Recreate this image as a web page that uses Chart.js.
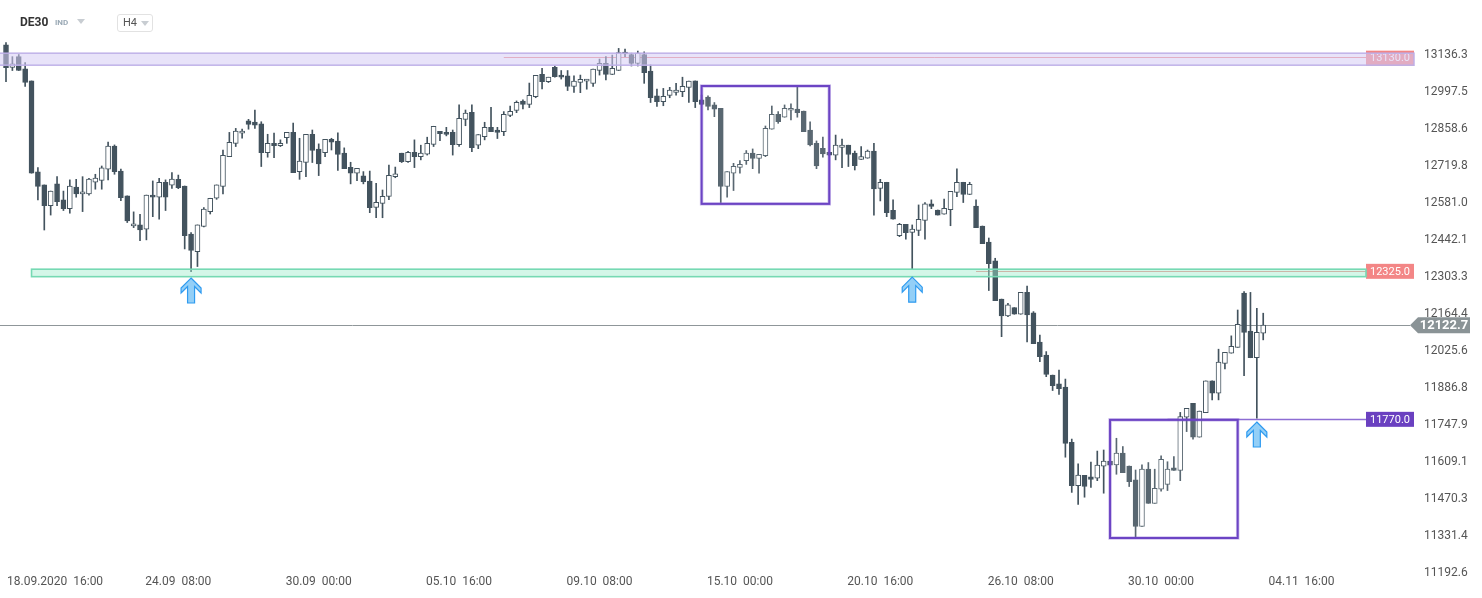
<!DOCTYPE html>
<html>
<head>
<meta charset="utf-8">
<script src="https://cdn.jsdelivr.net/npm/chart.js@4.4.1/dist/chart.umd.min.js"></script>
<style>
  body { margin: 0; background: #fff; font-family: Roboto, "Open Sans", sans-serif; }
  #wrap { position: relative; width: 1482px; height: 598px; overflow: hidden; }
  canvas { position: absolute; left: 0; top: 0; }
  .sym { position: absolute; left: 20px; top: 15px; font-size: 12px; font-weight: 700; color: #333; line-height: 14px; }
  .ind { position: absolute; left: 55px; top: 18px; font-size: 8px; font-weight: 700; color: #9aa9b5; line-height: 10px; }
  .tri { position: absolute; width: 0; height: 0; border-left: 4px solid transparent; border-right: 4px solid transparent; border-top: 5px solid #c8cdd2; }
  .tf { position: absolute; left: 117px; top: 14px; width: 34px; height: 16px; border: 1px solid #e2e2e2; border-radius: 3px; }
  .tf span { position: absolute; left: 5px; top: 1px; font-size: 11px; color: #555; line-height: 14px; }
</style>
</head>
<body>
<div id="wrap">
  <canvas id="chart" width="1482" height="598"></canvas>
  <div class="sym">DE30</div>
  <div class="ind">IND</div>
  <div class="tri" style="left:77px;top:19px"></div>
  <div class="tf"><span>H4</span><div class="tri" style="left:23px;top:6px"></div></div>
</div>
<script>
// H4 candles, 17.09.2020 20:00 .. 03.11.2020
const open = [13174,13090,13130,13084,13039,12698,12649,12571,12653,12593,12560,12641,12615,12615,12659,12666,12708,12795,12701,12608,
  12495,12499,12483,12611,12603,12659,12648,12670,12645,12465,12399,12493,12549,12599,12643,12755,12805,12843,12889,12885,
  12878,12770,12805,12796,12826,12846,12699,12733,12839,12783,12770,12820,12813,12768,12715,12693,12683,12663,12565,12580,
  12606,12680,12768,12736,12771,12755,12764,12801,12850,12846,12846,12800,12895,12921,12798,12830,12865,12855,12849,12910,
  12928,12963,12951,12980,13064,13036,13090,13061,13058,13018,13033,13038,13030,13078,13105,13063,13078,13145,13138,13105,
  13138,13076,12983,12961,12985,12996,12999,13015,13039,12968,12978,12949,12936,12643,12693,12715,12740,12768,12748,12759,
  12858,12914,12903,12929,12933,12926,12855,12805,12786,12771,12761,12790,12798,12768,12745,12749,12776,12636,12659,12554,
  12459,12501,12471,12478,12516,12578,12555,12539,12556,12621,12659,12613,12570,12495,12435,12364,12221,12158,12189,12164,
  12246,12169,12060,12011,11936,11903,11891,11684,11521,11560,11554,11549,11594,11613,11599,11643,11595,11543,11368,11583,
  11455,11508,11526,11588,11578,11778,11830,11703,11795,11914,11868,11980,12018,12040,12243,12101,12001,12093];
const high = [13183,13130,13138,13108,13039,12714,12649,12626,12680,12626,12668,12670,12680,12674,12689,12720,12810,12799,12708,12608,
  12548,12539,12611,12664,12674,12668,12695,12686,12645,12470,12499,12564,12599,12649,12780,12846,12861,12858,12895,12930,
  12886,12839,12843,12818,12846,12881,12824,12839,12855,12803,12820,12824,12844,12788,12734,12711,12699,12701,12655,12630,
  12723,12716,12768,12775,12818,12798,12828,12869,12850,12865,12855,12949,12930,12949,12838,12884,12940,12865,12924,12945,
  12964,12968,13031,13060,13086,13053,13095,13078,13078,13058,13061,13045,13083,13121,13130,13136,13161,13158,13143,13151,
  13148,13099,13008,13011,13015,13030,13053,13038,13039,12986,12983,12958,12936,12699,12730,12740,12778,12784,12764,12870,
  12945,12924,12949,12953,13018,12926,12886,12814,12828,12773,12836,12821,12798,12776,12793,12780,12805,12670,12659,12593,
  12505,12501,12499,12574,12583,12593,12555,12596,12625,12709,12659,12659,12593,12495,12450,12374,12221,12205,12189,12246,
  12270,12174,12086,12024,11936,11955,11921,11696,11603,11560,11610,11651,11655,11613,11699,11668,11595,11580,11599,11608,
  11583,11633,11611,11630,11796,11811,11830,11801,11914,11914,12033,12021,12083,12180,12249,12246,12186,12168];
const low = [13036,13078,13078,13018,12693,12593,12480,12536,12571,12553,12543,12603,12549,12611,12633,12633,12668,12689,12590,12508,
  12489,12440,12443,12530,12521,12553,12636,12635,12409,12324,12343,12492,12540,12595,12615,12755,12793,12824,12858,12861,
  12718,12753,12751,12793,12805,12695,12670,12680,12733,12684,12755,12780,12703,12710,12653,12665,12653,12545,12526,12526,
  12594,12676,12733,12733,12714,12743,12761,12793,12815,12833,12761,12793,12871,12774,12785,12818,12849,12823,12834,12905,
  12920,12934,12939,12976,13009,13033,13053,13046,13003,12996,12995,13008,13018,13061,13043,13063,13078,13130,13095,13095,
  13030,12958,12943,12946,12976,12986,12980,12958,12939,12949,12930,12905,12583,12603,12628,12693,12726,12710,12693,12755,
  12858,12880,12903,12893,12903,12849,12795,12710,12753,12759,12743,12714,12718,12705,12745,12749,12536,12589,12530,12521,
  12455,12446,12333,12459,12446,12560,12536,12539,12496,12605,12583,12613,12489,12429,12253,12215,12080,12155,12164,12164,
  12060,12054,11986,11930,11878,11863,11628,11496,11451,11478,11515,11540,11493,11598,11564,11570,11518,11326,11368,11455,
  11455,11501,11503,11578,11540,11724,11696,11703,11795,11843,11843,11959,12018,12040,11934,12001,11774,12068];
const close = [13089,13103,13078,13033,12693,12643,12571,12626,12586,12560,12645,12615,12623,12671,12675,12713,12795,12699,12601,12514,
  12503,12480,12611,12603,12659,12603,12671,12639,12459,12403,12499,12558,12599,12649,12760,12809,12851,12851,12876,12873,
  12770,12805,12796,12805,12846,12695,12738,12839,12778,12728,12820,12809,12763,12710,12693,12711,12661,12564,12584,12606,
  12685,12691,12736,12771,12755,12768,12805,12869,12841,12838,12800,12899,12918,12789,12838,12865,12849,12846,12914,12925,
  12959,12951,12985,13060,13036,13053,13055,13053,13018,13038,13045,13045,13083,13105,13063,13086,13145,13140,13105,13143,
  13070,12976,12961,12981,13005,13005,13019,13038,12961,12951,12943,12933,12643,12699,12719,12726,12768,12748,12764,12861,
  12914,12886,12936,12936,12920,12849,12799,12720,12765,12761,12798,12798,12763,12721,12755,12776,12634,12659,12545,12521,
  12501,12470,12483,12520,12578,12568,12536,12561,12625,12659,12613,12651,12489,12429,12354,12215,12158,12199,12164,12246,
  12162,12054,12005,11938,11896,11885,11680,11521,11561,11518,11545,11598,11613,11598,11643,11570,11536,11368,11583,11455,
  11511,11620,11583,11578,11780,11811,11703,11801,11914,11868,11985,12021,12044,12126,12096,12001,12096,12123];

const priceTicks = [13136.3, 12997.5, 12858.6, 12719.8, 12581.0, 12442.1, 12303.3, 12164.4,
  12025.6, 11886.8, 11747.9, 11609.1, 11470.3, 11331.4, 11192.6];
const dateTickIdx = [5, 27, 49, 71, 93, 115, 137, 159, 181, 203];
const dateTickLabels = ['18.09.2020  16:00', '24.09  08:00', '30.09  00:00', '05.10  16:00', '09.10  08:00',
  '15.10  00:00', '20.10  16:00', '26.10  08:00', '30.10  00:00', '04.11  16:00'];

const lastPrice = 12122.7;
// horizontal levels: price, first candle index
const levelPrice = [13130.0, 12325.0, 11770.0];
const levelStart = [78, 152, 182];
// zones: [bottom, top], first candle index
const zoneLow = [13098, 12305];
const zoneHigh = [13143, 12333];
const zoneStart = [0, 4];
// boxes: candle index range and price range
const boxFrom = [109, 173];
const boxTo = [129, 193];
const boxLow = [12578, 11325];
const boxHigh = [13020, 11768];
// arrows under candles
const arrowIdx = [29, 142, 196];
const arrowPrice = [12300, 12303, 11760];

const DARK = '#43535e';
const FONT = 'Roboto, "Open Sans", sans-serif';

const wickData = low.map((l, i) => ({ x: i, y: [l, high[i]] }));
const bodyData = open.map((o, i) => ({ x: i, y: [o, close[i]] }));
const bodyColor = open.map((o, i) => close[i] >= o ? '#ffffff' : DARK);

function drawArrow(ctx, px, py) {
  const pts = [[0,0],[10,10],[10,15],[3.5,8.5],[3.5,25],[-3.5,25],[-3.5,8.5],[-10,15],[-10,10]];
  ctx.beginPath();
  pts.forEach((p, k) => k ? ctx.lineTo(px + p[0], py + p[1]) : ctx.moveTo(px + p[0], py + p[1]));
  ctx.closePath();
  ctx.fillStyle = '#93cff7';
  ctx.fill();
  ctx.strokeStyle = '#2f9bf0';
  ctx.lineWidth = 1.2;
  ctx.stroke();
}

function tag(ctx, x, yc, w, h, fill, text) {
  ctx.fillStyle = fill;
  ctx.fillRect(x, yc - h / 2, w, h);
  ctx.fillStyle = '#ffffff';
  ctx.font = '11px ' + FONT;
  ctx.textAlign = 'center';
  ctx.textBaseline = 'middle';
  ctx.fillText(text, x + w / 2, yc + 0.5);
}

const overlay = {
  id: 'overlay',
  beforeDatasetsDraw(chart) {
    const { ctx, chartArea: a, scales: { x, y } } = chart;
    const tagL = a.right - 44;
    ctx.save();
    const yp = Math.round(y.getPixelForValue(lastPrice)) + 0.5;
    ctx.strokeStyle = '#8f9699';
    ctx.lineWidth = 1;
    ctx.beginPath(); ctx.moveTo(a.left, yp); ctx.lineTo(a.right, yp); ctx.stroke();
    levelPrice.forEach((p, k) => {
      const py = Math.round(y.getPixelForValue(p)) + 0.5;
      ctx.strokeStyle = k === 2 ? 'rgba(112,72,200,0.8)' : '#f08a8a';
      ctx.lineWidth = k === 2 ? 1.5 : 1;
      ctx.beginPath(); ctx.moveTo(x.getPixelForValue(levelStart[k]), py); ctx.lineTo(tagL, py); ctx.stroke();
    });
    ctx.restore();
  },
  afterDatasetsDraw(chart) {
    const { ctx, chartArea: a, scales: { x, y } } = chart;
    const tagL = a.right - 44;
    ctx.save();
    // level tags
    const tagFill = ['#f28585', '#f38686', '#6a40c0'];
    levelPrice.forEach((p, k) => {
      tag(ctx, tagL, y.getPixelForValue(p) + (k === 0 ? 1.5 : 0), 48, 15, tagFill[k], p.toFixed(1));
    });
    // zones
    zoneLow.forEach((lo, k) => {
      const y1 = y.getPixelForValue(zoneHigh[k]);
      const y2 = y.getPixelForValue(lo);
      const x1 = x.getPixelForValue(zoneStart[k]) - (k === 0 ? 10 : 0);
      const x2 = k === 0 ? tagL + 48 : tagL;
      ctx.fillStyle = k === 0 ? 'rgba(214,204,244,0.55)' : 'rgba(160,235,205,0.45)';
      ctx.fillRect(x1, y1, x2 - x1, y2 - y1);
      ctx.strokeStyle = k === 0 ? 'rgba(190,175,232,0.9)' : '#76d9b3';
      ctx.lineWidth = 1.6;
      ctx.strokeRect(x1, y1, x2 - x1, y2 - y1);
    });
    // boxes
    boxFrom.forEach((f, k) => {
      const x1 = x.getPixelForValue(f);
      const x2 = x.getPixelForValue(boxTo[k]);
      const y1 = y.getPixelForValue(boxHigh[k]);
      const y2 = y.getPixelForValue(boxLow[k]);
      ctx.fillStyle = 'rgba(255,255,255,0.12)';
      ctx.fillRect(x1, y1, x2 - x1, y2 - y1);
      ctx.strokeStyle = 'rgba(120,80,205,0.35)';
      ctx.lineWidth = 3.5;
      ctx.strokeRect(x1, y1, x2 - x1, y2 - y1);
      ctx.strokeStyle = '#6c44c4';
      ctx.lineWidth = 2;
      ctx.strokeRect(x1, y1, x2 - x1, y2 - y1);
    });
    arrowIdx.forEach((i, k) => drawArrow(ctx, x.getPixelForValue(i), y.getPixelForValue(arrowPrice[k])));
    ctx.restore();
  },
  afterDraw(chart) {
    const { ctx, chartArea: a, scales: { x, y } } = chart;
    ctx.save();
    // last price tag
    const yp = y.getPixelForValue(lastPrice);
    ctx.beginPath();
    ctx.moveTo(a.right, yp);
    ctx.lineTo(a.right + 8, yp - 8);
    ctx.lineTo(a.right + 60, yp - 8);
    ctx.lineTo(a.right + 60, yp + 8);
    ctx.lineTo(a.right + 8, yp + 8);
    ctx.closePath();
    ctx.fillStyle = '#8a9396';
    ctx.fill();
    ctx.fillStyle = '#ffffff';
    ctx.font = 'bold 13px ' + FONT;
    ctx.textAlign = 'center';
    ctx.textBaseline = 'middle';
    ctx.fillText(lastPrice.toFixed(1), a.right + 34, yp + 0.5);
    // date labels
    ctx.font = '12px ' + FONT;
    ctx.fillStyle = '#555';
    ctx.textAlign = 'left';
    dateTickIdx.forEach((i, k) => {
      const w = ctx.measureText(dateTickLabels[k]).width;
      const px = Math.max(7, x.getPixelForValue(i) - w / 2);
      ctx.fillText(dateTickLabels[k], px, a.bottom + 8);
    });
    ctx.restore();
  }
};

new Chart(document.getElementById('chart'), {
  type: 'bar',
  data: {
    datasets: [
      { data: wickData, backgroundColor: DARK, borderWidth: 0, barThickness: 1, grouped: false, order: 2 },
      { data: bodyData, backgroundColor: bodyColor, borderColor: DARK, borderWidth: 1,
        borderSkipped: false, barThickness: 5, minBarLength: 2, grouped: false, order: 1 }
    ]
  },
  options: {
    responsive: false,
    animation: false,
    devicePixelRatio: 1,
    layout: { padding: { top: 38, left: 0, right: 0, bottom: 0 } },
    plugins: { legend: { display: false }, tooltip: { enabled: false } },
    scales: {
      x: {
        type: 'linear', min: -0.94, max: 220, offset: false,
        grid: { display: false, drawTicks: false }, border: { display: false },
        ticks: { display: false },
        afterFit: s => { s.height = 24; }
      },
      y: {
        position: 'right', min: 11190, max: 13200,
        grid: { display: false, drawTicks: false }, border: { display: false },
        afterBuildTicks: s => { s.ticks = priceTicks.map(v => ({ value: v })); },
        ticks: { padding: 14, color: '#555', font: { family: FONT, size: 12 },
          callback: v => v.toFixed(1) },
        afterFit: s => { s.width = 72; }
      }
    }
  },
  plugins: [overlay]
});
</script>
</body>
</html>
